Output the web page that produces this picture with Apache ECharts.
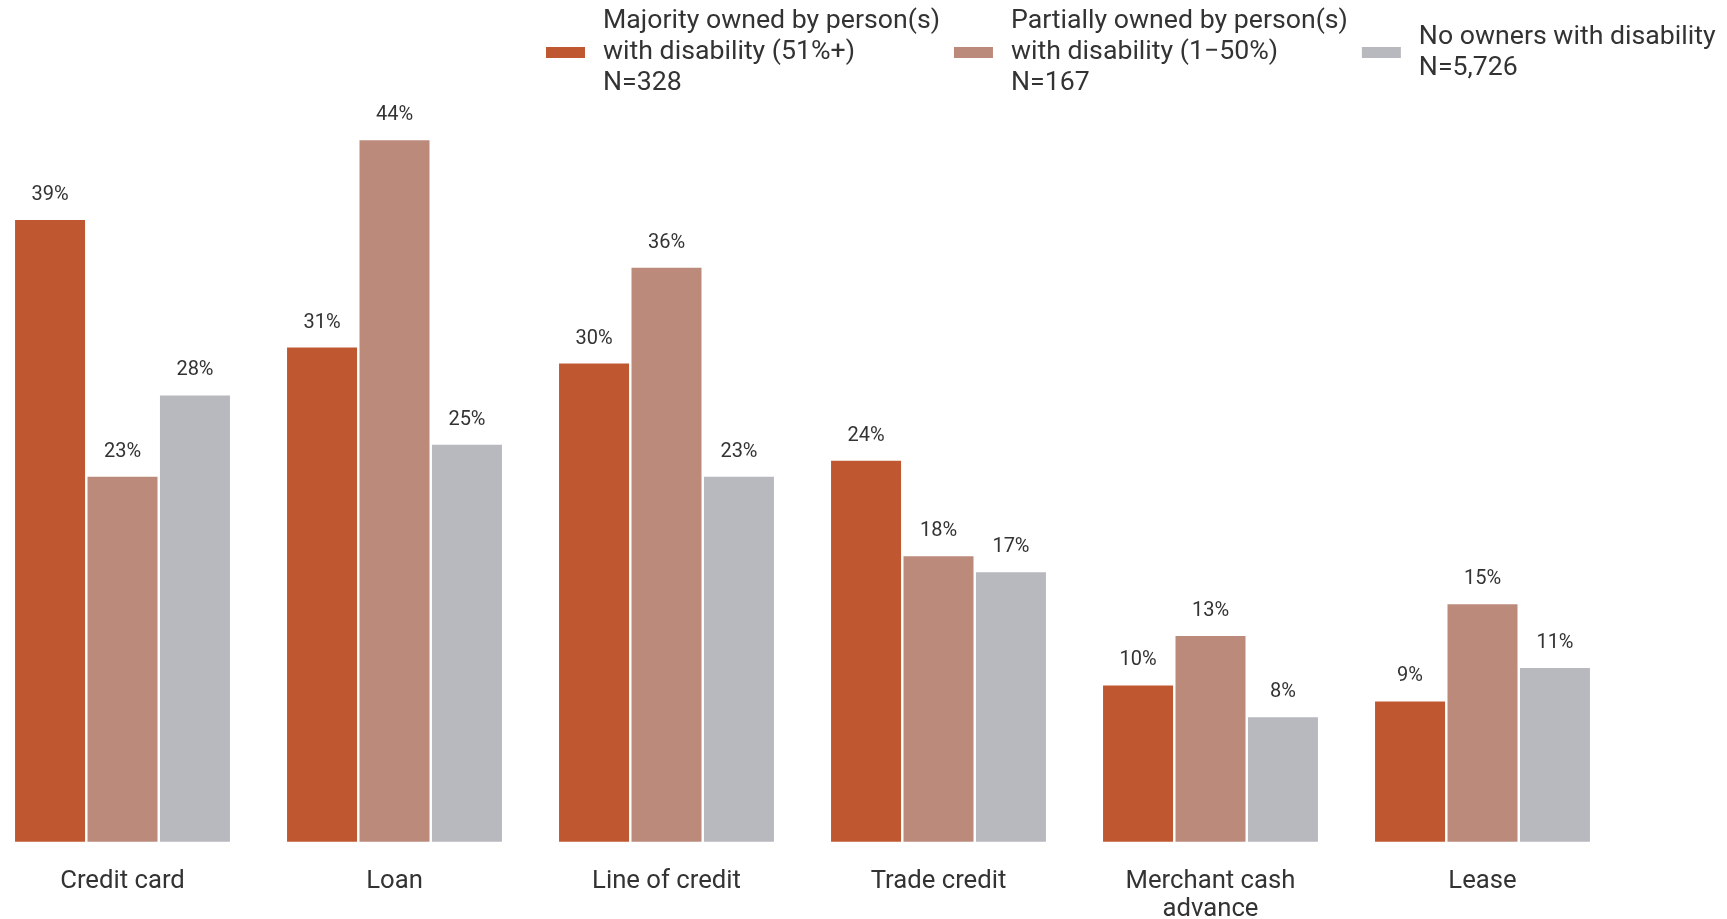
<!DOCTYPE html>
<html>
<head>
<meta charset="utf-8">
<script src="https://cdn.jsdelivr.net/npm/echarts@6/dist/echarts.min.js"></script>
<style>
    html, body { margin: 0; padding: 0; background: #fff; }
    #chart { width: 1727px; height: 919px; }
</style>
</head>
<body>
<div id="chart"></div>
<script>
// categories and values (percent of firms; labels show rounded values)
const categories = ['Credit card', 'Loan', 'Line of credit', 'Trade credit', 'Merchant cash\nadvance', 'Lease']
const majorityOwned = [39, 31, 30, 23.9, 9.8, 8.8]
const partiallyOwned = [22.9, 44, 36, 17.9, 12.9, 14.9]
const noOwners = [28, 24.9, 22.9, 16.9, 7.8, 10.9]
const seriesNames = [
    'Majority owned by person(s)\nwith disability (51%+)\nN=328',
    'Partially owned by person(s)\nwith disability (1\u221250%)\nN=167',
    'No owners with disability\nN=5,726'
]
const colors = ['#BF5830', '#BC8A7A', '#B8B9BE']

const font = 'Roboto, "Noto Sans", sans-serif'

function makeBar(name, data, color) {
    return {
        name: name,
        type: 'bar',
        data: data,
        barWidth: 70,
        barGap: '3.5%',
        itemStyle: { color: color },
        label: {
            show: true,
            position: 'top',
            distance: 15,
            formatter: (p) => Math.round(p.value) + '%',
            color: '#333',
            fontSize: 20,
            fontFamily: font
        }
    }
}

let option = {
    animation: false,
    color: colors,
    legend: {
        left: 546,
        top: 6,
        padding: 0,
        itemGap: 14,
        itemWidth: 39,
        itemHeight: 11,
        icon: 'rect',
        data: seriesNames,
        textStyle: {
            fontSize: 26.7,
            lineHeight: 31,
            color: '#333',
            fontFamily: font,
            padding: [0, 0, 0, 13]
        }
    },
    grid: {
        left: -13.5,
        right: 108.5,
        top: 124.4,
        bottom: 77.3,
        containLabel: false,
        outerBoundsMode: 'none'
    },
    xAxis: {
        type: 'category',
        data: categories,
        axisLine: { show: false },
        axisTick: { show: false },
        axisLabel: {
            margin: 26,
            fontSize: 25.7,
            lineHeight: 28,
            color: '#333',
            fontFamily: font
        }
    },
    yAxis: {
        type: 'value',
        min: 0,
        max: 45,
        show: false
    },
    series: [
        makeBar(seriesNames[0], majorityOwned, colors[0]),
        makeBar(seriesNames[1], partiallyOwned, colors[1]),
        makeBar(seriesNames[2], noOwners, colors[2])
    ]
}

const chart = echarts.init(document.getElementById('chart'))
chart.setOption(option)
window.addEventListener('resize', () => {
    chart.resize()
})
</script>
</body>
</html>
